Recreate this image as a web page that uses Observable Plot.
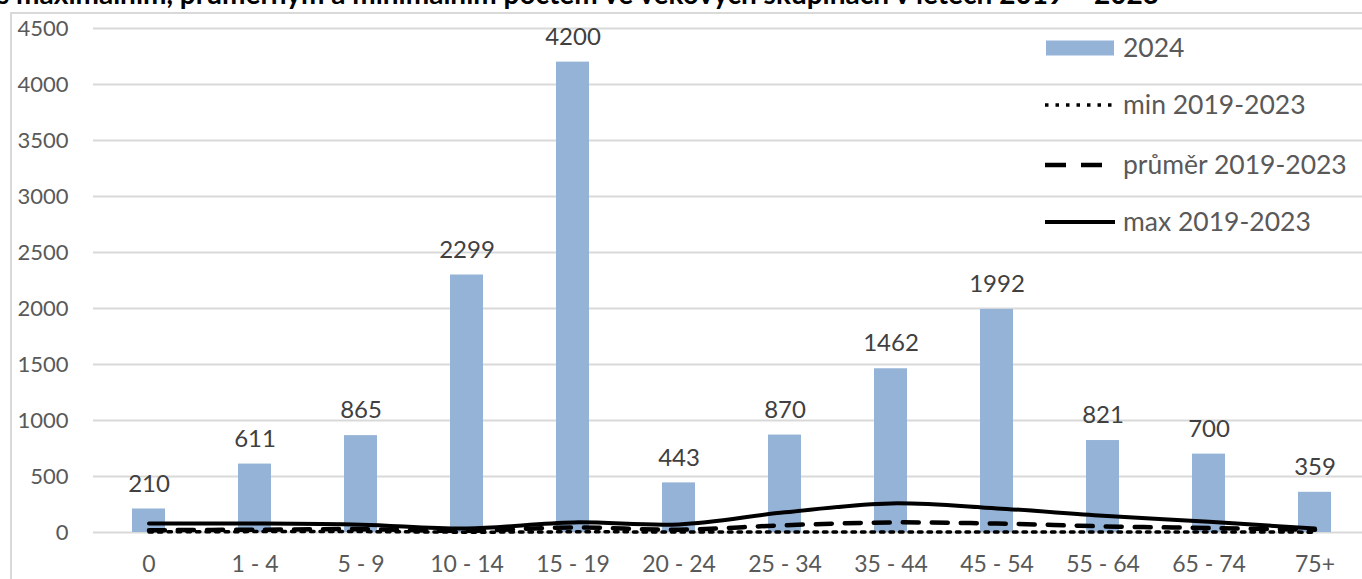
<!DOCTYPE html>
<html><head><meta charset="utf-8">
<script src="https://cdn.jsdelivr.net/npm/d3@7"></script>
<script src="https://cdn.jsdelivr.net/npm/@observablehq/plot@0.6"></script>
<style>
body{margin:0;background:#fff;}
#wrap{position:relative;width:1362px;height:579px;overflow:hidden;font-family:Lato,sans-serif;}
#frame{position:absolute;left:10px;top:12px;width:1400px;height:700px;border:2px solid #d9d9d9;}
#chart{position:absolute;left:0;top:0;}
#title{position:absolute;left:-3px;top:-21px;font-weight:bold;font-size:28px;line-height:1;white-space:nowrap;color:#000;font-family:Lato,sans-serif;}
.lg{position:absolute;font-size:26.5px;color:#595959;white-space:nowrap;line-height:1;}
.lgs{position:absolute;}
</style></head>
<body>
<div id="wrap">
  <div id="frame"></div>
  <div id="chart"></div>
  <div id="title">s maximálním, průměrným a minimálním počtem ve věkových skupinách v letech 2019 – 2023</div>
  <div id="legend"></div>
</div>
<script>
const categories = ["0","1 - 4","5 - 9","10 - 14","15 - 19","20 - 24","25 - 34","35 - 44","45 - 54","55 - 64","65 - 74","75+"];
const values2024 = [210,611,865,2299,4200,443,870,1462,1992,821,700,359];
const maxValues = [80,80,70,36,90,72,180,260,215,150,95,35];
const avgValues = [20,25,30,15,45,25,65,90,80,55,40,25];
const minValues = [5,8,8,3,6,5,5,5,5,5,5,3];
const yTicks = [0,500,1000,1500,2000,2500,3000,3500,4000,4500];
const seriesNames = ["2024","min 2019-2023","průměr 2019-2023","max 2019-2023"];

const barData = categories.map((c,i)=>({cat:c, v:values2024[i]}));
const lineData = (arr)=>categories.map((c,i)=>({cat:c, v:arr[i]}));

const chart = Plot.plot({
  width:1362, height:579,
  marginLeft:93, marginRight:0, marginTop:28, marginBottom:47,
  style:{fontFamily:"Lato, sans-serif", fontSize:"22px", color:"#595959", background:"transparent", overflow:"visible"},
  x:{domain:categories, range:[93,1370], paddingInner:0.69, paddingOuter:0.345, label:null},
  y:{domain:[0,4500], label:null},
  marks:[
    Plot.ruleY(yTicks,{stroke:"#d9d9d9", strokeWidth:2}),
    Plot.barY(barData,{x:"cat", y:"v", fill:"#95b3d7"}),
    Plot.line(lineData(minValues),{x:"cat", y:"v", stroke:"#000", strokeWidth:3.5, strokeDasharray:"3.5,6", curve:"catmull-rom"}),
    Plot.line(lineData(avgValues),{x:"cat", y:"v", stroke:"#000", strokeWidth:4.5, strokeDasharray:"16,13", curve:"catmull-rom"}),
    Plot.line(lineData(maxValues),{x:"cat", y:"v", stroke:"#000", strokeWidth:4, curve:"catmull-rom"}),
    Plot.text(barData,{x:"cat", y:"v", text:d=>String(d.v), dy:-25, fill:"#404040", fontSize:24}),
    Plot.axisY(yTicks,{tickSize:0, tickPadding:25, tickFormat:d=>String(d), fontSize:22}),
    Plot.axisX({tickSize:0, tickPadding:23, fontSize:23})
  ]
});
document.getElementById("chart").appendChild(chart);

// legend
const lg = document.getElementById("legend");
const ns = "http://www.w3.org/2000/svg";
const rowsY = [48,105,165,222];
seriesNames.forEach((name,i)=>{
  const svg = document.createElementNS(ns,"svg");
  svg.setAttribute("width",80); svg.setAttribute("height",20);
  svg.setAttribute("class","lgs");
  svg.style.left = "1040px"; svg.style.top = (rowsY[i]-10)+"px";
  if(i===0){
    const r=document.createElementNS(ns,"rect");
    r.setAttribute("x",6);r.setAttribute("y",2.5);r.setAttribute("width",68);r.setAttribute("height",15);r.setAttribute("fill","#95b3d7");
    svg.appendChild(r);
  } else {
    const l=document.createElementNS(ns,"line");
    l.setAttribute("x1",5);l.setAttribute("x2",i===2?66:75);l.setAttribute("y1",10);l.setAttribute("y2",10);
    l.setAttribute("stroke","#000");
    if(i===1){l.setAttribute("stroke-width",3.5);l.setAttribute("stroke-dasharray","3.5,7");}
    if(i===2){l.setAttribute("stroke-width",4.5);l.setAttribute("stroke-dasharray","21,15");}
    if(i===3){l.setAttribute("stroke-width",4);}
    svg.appendChild(l);
  }
  lg.appendChild(svg);
  const t=document.createElement("div");
  t.className="lg"; t.textContent=name;
  t.style.left="1123px"; t.style.top=(rowsY[i]-14)+"px";
  lg.appendChild(t);
});
</script>
</body></html>
